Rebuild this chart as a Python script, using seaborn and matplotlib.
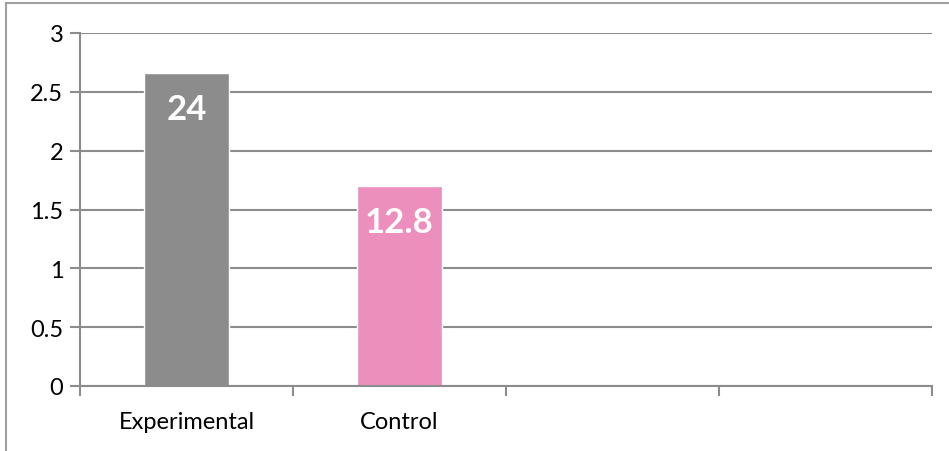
import matplotlib
matplotlib.use("Agg")
import matplotlib.pyplot as plt
import matplotlib.patches as mpatches
import seaborn as sns
import pandas as pd

# Group means and the figures printed on each bar
groups = ["Experimental", "Control"]
means = [2.66, 1.70]
bar_labels = ["24", "12.8"]
bar_colors = ["#8c8c8c", "#ec8fbc"]
y_ticks = [0, 0.5, 1, 1.5, 2, 2.5, 3]
y_tick_labels = ["0", "0.5", "1", "1.5", "2", "2.5", "3"]
n_slots = 4

sns.set_theme(style="white")
plt.rcParams["font.family"] = ["Lato", "DejaVu Sans"]

df = pd.DataFrame({"group": groups, "mean": means})

fig = plt.figure(figsize=(9.49, 4.52), dpi=100)
ax = fig.add_axes([80 / 949, 65 / 452, 852 / 949, 353 / 452])

sns.barplot(data=df, x="group", y="mean", hue="group", palette=bar_colors,
            order=groups, width=0.40, legend=False, ax=ax, saturation=1)

for patch, text in zip(ax.patches, bar_labels):
    x = patch.get_x() + patch.get_width() / 2
    top = patch.get_height()
    ax.annotate(text, xy=(x, top), xytext=(0, -36), textcoords="offset pixels",
                ha="center", va="center", color="white", fontsize=25,
                fontweight="bold")

ax.set_xlim(-0.5, n_slots - 0.5)
ax.set_ylim(0, 3)
ax.set_yticks(y_ticks)
ax.set_yticklabels(y_tick_labels)
ax.set_xlabel("")
ax.set_ylabel("")

grid_color = "#8c8c8c"
ax.yaxis.grid(True, color=grid_color, linewidth=1.5)
ax.set_axisbelow(True)
for side in ["top", "right"]:
    ax.spines[side].set_visible(False)
for side in ["left", "bottom"]:
    ax.spines[side].set_color(grid_color)
    ax.spines[side].set_linewidth(1.5)

ax.tick_params(axis="y", which="major", left=True, length=7, width=1.5,
               color=grid_color, labelsize=17, labelcolor="black", pad=5)
ax.set_xticks([i - 0.5 for i in range(n_slots + 1)], minor=True)
ax.tick_params(axis="x", which="minor", bottom=True, length=7, width=1.5,
               color=grid_color)
ax.tick_params(axis="x", which="major", bottom=False, labelsize=17,
               labelcolor="black", pad=12)

# Outer frame around the chart area (right and bottom edges lie off the canvas)
fig.patches.append(mpatches.Rectangle((6 / 949, -0.05), 1.0, 1.05 - 4 / 452,
                                      transform=fig.transFigure, fill=False,
                                      edgecolor="#a0a0a0", linewidth=1.5))

fig.savefig("out.png", dpi=100)
